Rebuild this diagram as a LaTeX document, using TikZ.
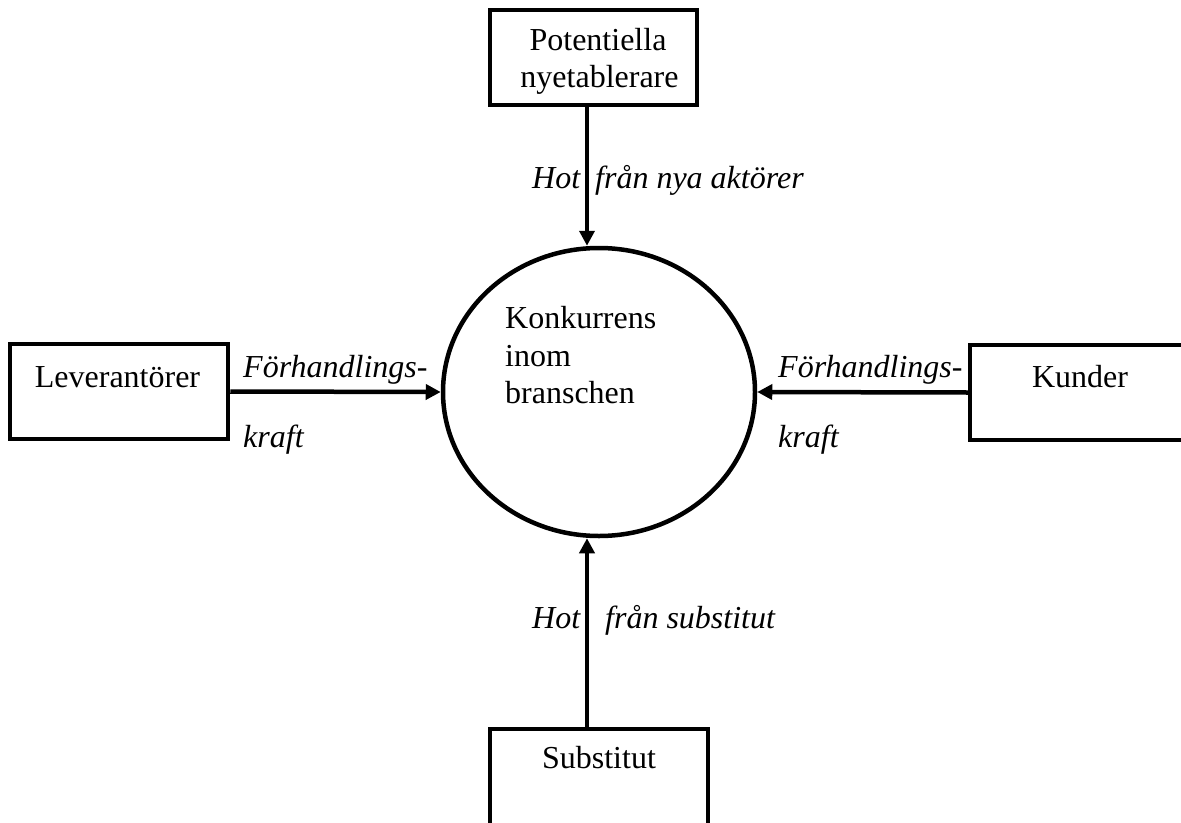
\documentclass[tikz,border=0pt]{standalone}
\usepackage{fontspec}
\setmainfont{Liberation Serif}[ItalicFont={Liberation Serif Italic},BoldFont={Liberation Serif Bold}]
\usetikzlibrary{arrows.meta,calc,shapes.geometric}
\begin{document}
\begin{tikzpicture}[x=1bp,y=-1bp,
  frame/.style={draw=black,line width=4.5bp,rectangle,inner sep=0pt,minimum width=218bp,minimum height=95bp},
  hubshape/.style={draw=black,line width=4.5bp,ellipse,inner sep=0pt,minimum width=312bp,minimum height=288bp},
  arr/.style={line width=4.5bp,-{Triangle[length=15bp,width=15bp]}},
  txt/.style={font=\fontsize{32bp}{37.5bp}\selectfont,inner sep=0pt},
  lbl/.style={font=\fontsize{32bp}{37.5bp}\selectfont\itshape,inner sep=0pt,anchor=base west}]
\useasboundingbox[fill=white] (0,0) rectangle (1181,823);

% boxes and the central ellipse
\node[frame,minimum width=207bp] (entr) at (593.5,57.5) {};
\node[frame] (lev) at (119,391.5) {};
\node[frame] (kund) at (1079,392.5) {};
\node[frame,minimum height=100bp] (sub) at (599,779) {};
\node[hubshape] (hub) at (599,392) {};

% texts inside the shapes
\node[txt,anchor=base] (entrA) at (598,50) {Potentiella};
\node[txt,anchor=base] (entrB) at (599.5,87.5) {nyetablerare};
\node[txt,anchor=base] (levT) at (117.5,387) {Leverantörer};
\node[txt,anchor=base] (kundT) at (1080,387) {Kunder};
\node[txt,anchor=base] (subT) at (599,768) {Substitut};
\node[txt,anchor=base west] (hubA) at (505,328) {Konkurrens};
\node[txt,anchor=base west] (hubB) at (505,366) {inom};
\node[txt,anchor=base west] (hubC) at (505,403) {branschen};

% forces acting on the industry
\coordinate (topStart) at ($(entr.south)+(-6.5,0)$);
\coordinate (botStart) at ($(sub.north)+(-12,0)$);
\draw[arr] (topStart) -- (topStart |- hub.north);
\draw[arr] (botStart) -- (botStart |- hub.south);
\draw[arr] (lev.east) -- (hub.west);
\draw[arr] (kund.west) -- (hub.east);

% connector labels
\node[lbl] (l1) at (532,188) {Hot\hspace{15bp}från nya aktörer};
\node[lbl] (l2) at (532,628) {Hot\hspace{25bp}från substitut};
\node[lbl] (l3) at (243,377) {Förhandlings-};
\node[lbl] (l4) at (243,447) {kraft};
\node[lbl] (l5) at (778,377) {Förhandlings-};
\node[lbl] (l6) at (778,447) {kraft};
\end{tikzpicture}
\end{document}
